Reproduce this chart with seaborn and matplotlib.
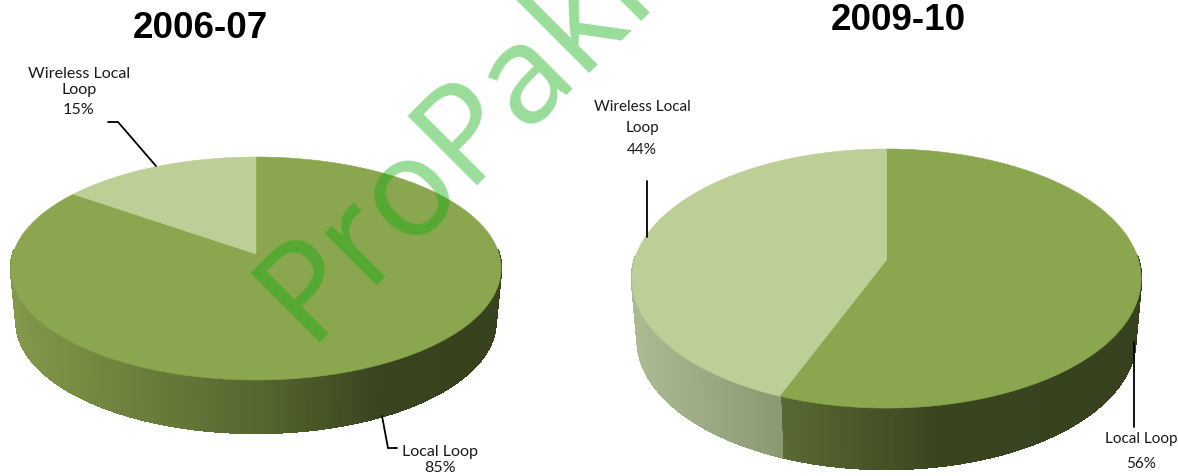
#!/usr/bin/env python3
"""Two tilted 3D style pies comparing Local Loop and Wireless Local Loop shares."""

import numpy as np
import matplotlib

matplotlib.use("Agg")
import matplotlib.pyplot as plt
from matplotlib.colors import LinearSegmentedColormap
import seaborn as sns

sns.set_style("white")

# Data
categories = ["Local Loop", "Wireless Local Loop"]
years = ["2006-07", "2009-10"]
shares_2006 = [85, 15]
shares_2009 = [56, 44]
watermark = "ProPakistani"

top_colors = sns.color_palette(["#8AA64E", "#BBCF96"])


def project(theta, pie, scale_x=1.0, drop=0.0):
    """Perspective map of a unit circle angle (clockwise from top) to the page."""
    u, v = np.sin(theta), np.cos(theta)
    w = 1 + pie["k"] * v
    x = pie["cx"] + scale_x * pie["a"] * u / w
    y = pie["cy"] - pie["b"] * v / w + drop
    return x, y


def draw_pie(ax, shares, pie):
    """Draw the side wall in thin slices and then the top faces."""
    edges = np.radians(np.cumsum([0] + shares) / sum(shares) * 360)

    walls = [
        LinearSegmentedColormap.from_list("w", pie["wall_dark"]),
        LinearSegmentedColormap.from_list("w", pie["wall_light"]),
    ]
    # only the front of the rim shows, the back would poke out past the top face
    steps = np.radians(np.arange(88, 272.5, 0.5))
    for t0, t1 in zip(steps[:-1], steps[1:]):
        idx = np.searchsorted(edges, (t0 + t1) / 2) - 1
        x0, y0 = project(t0, pie)
        x1, y1 = project(t1, pie)
        xb0, yb0 = project(t0, pie, pie["shrink"], pie["depth"])
        xb1, yb1 = project(t1, pie, pie["shrink"], pie["depth"])
        frac = ((x0 + x1) / 2 - (pie["cx"] - pie["rx"])) / (2 * pie["rx"])
        color = walls[idx](frac)
        ax.fill([x0, x1, xb1, xb0], [y0, y1, yb1, yb0], color=color, lw=1.0,
                antialiased=False, zorder=2)

    for i in range(len(shares)):
        theta = np.linspace(edges[i], edges[i + 1], 300)
        x, y = project(theta, pie)
        x = np.r_[pie["cx"], x]
        y = np.r_[pie["cy"], y]
        ax.fill(x, y, color=top_colors[i], lw=0.4, zorder=3)


pie_left = {
    "cx": 256, "cy": 254, "rx": 245, "a": 243, "b": 109.6, "k": 0.13,
    "depth": 53, "shrink": 0.978,
    "wall_dark": [(0, "#839849"), (0.25, "#6C7F3C"), (0.5, "#56672F"),
                  (0.75, "#3A451F"), (1, "#37421E")],
    "wall_light": [(0, "#A8B78E"), (1, "#8C9A74")],
}
pie_right = {
    "cx": 886.5, "cy": 260, "rx": 254.5, "a": 252, "b": 126.9, "k": 0.143,
    "depth": 61, "shrink": 0.978,
    "wall_dark": [(0, "#6C7F3C"), (0.28, "#5B6B33"), (0.6, "#3A451F"), (1, "#36411E")],
    "wall_light": [(0, "#ABBA91"), (0.28, "#8C9A74"), (1, "#8C9A74")],
}


def main():
    fig = plt.figure(figsize=(11.78, 4.76), dpi=100)
    ax = fig.add_axes([0, 0, 1, 1])
    ax.set_xlim(0, 1178)
    ax.set_ylim(476, 0)
    ax.axis("off")

    draw_pie(ax, shares_2006, pie_left)
    draw_pie(ax, shares_2009, pie_right)

    # Titles
    title_font = dict(family="Liberation Sans", fontsize=26.5, fontweight="bold",
                      ha="center", va="center", color="black")
    ax.text(200, 28, years[0], **title_font)
    ax.text(898, 20, years[1], **title_font)

    # Leader lines
    line = dict(color="black", lw=1.3, zorder=4, solid_joinstyle="miter")
    ax.plot([108, 118, 156], [122, 122, 166], **line)
    ax.plot([382, 388, 397], [416, 448, 448], **line)
    ax.plot([647, 647], [181, 237], **line)
    ax.plot([1134, 1134], [342, 427], **line)

    # Slice labels
    label = dict(family="Lato", ha="center", va="center", color="#1a1a1a", zorder=5)
    ax.text(79, 74, "Wireless Local", fontsize=11.6, **label)
    ax.text(79, 90, "Loop", fontsize=11.6, **label)
    ax.text(79, 110, f"{shares_2006[1]}%", fontsize=11.6, **label)
    ax.text(440, 452, categories[0], fontsize=11.6, **label)
    ax.text(440, 468, f"{shares_2006[0]}%", fontsize=11.6, **label)
    ax.text(642, 107, "Wireless Local", fontsize=11, **label)
    ax.text(642, 128, "Loop", fontsize=11, **label)
    ax.text(642, 150, f"{shares_2009[1]}%", fontsize=11, **label)
    ax.text(1141, 439, categories[0], fontsize=11, **label)
    ax.text(1141, 464, f"{shares_2009[0]}%", fontsize=11, **label)

    # Watermark runs off the top of the page
    ax.text(307, 342, watermark, family="Noto Sans", fontsize=99, fontweight="medium",
            rotation=45, rotation_mode="anchor", ha="left", va="baseline",
            color="#0CAE0C", alpha=0.42, zorder=6, clip_on=True)

    fig.savefig("out.png", dpi=100)
    plt.close(fig)


if __name__ == "__main__":
    main()
